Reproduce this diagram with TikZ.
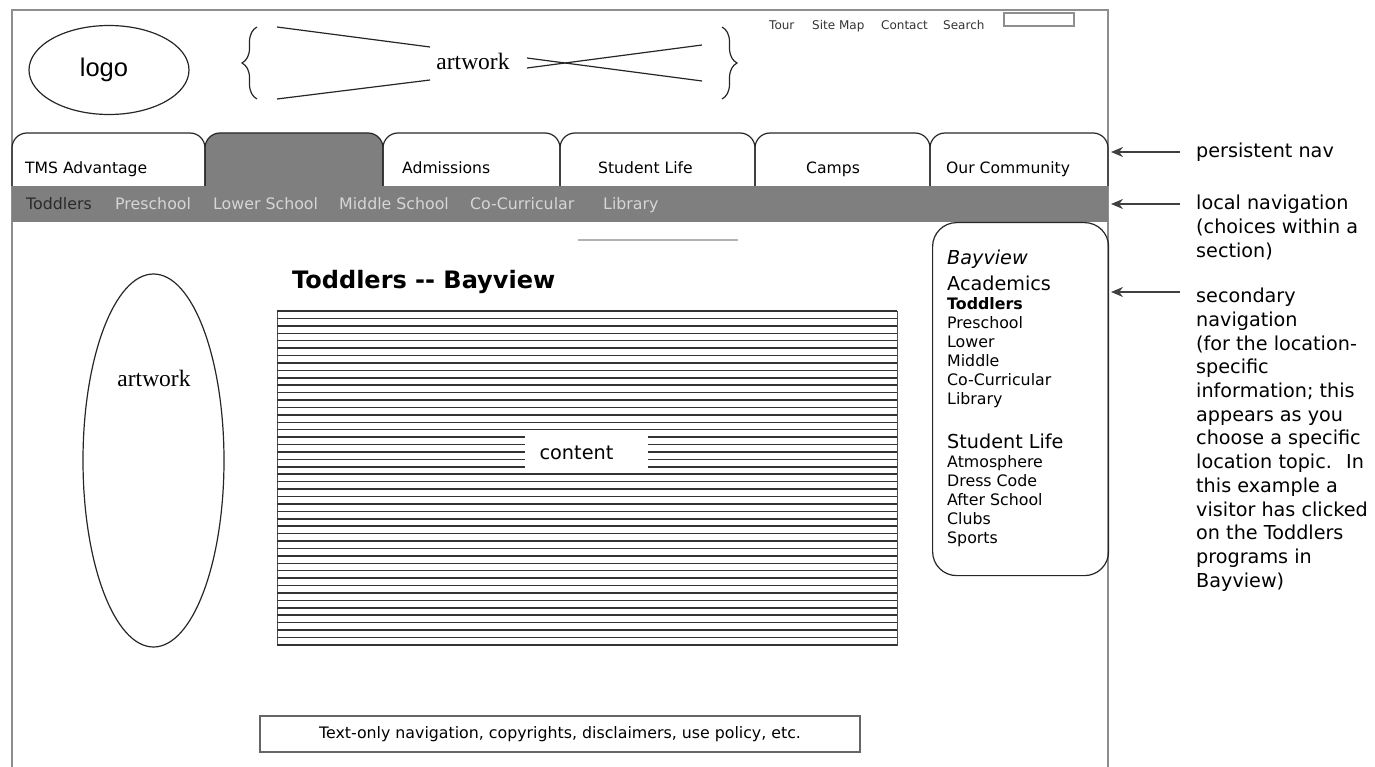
\documentclass[tikz,border=0pt]{standalone}
\usepackage{fontspec}
\setmainfont{DejaVu Sans}
\newfontfamily\artfont{Liberation Serif}
\newfontfamily\logofont{Liberation Sans}
\usetikzlibrary{shapes.geometric,arrows.meta,decorations.pathreplacing}

\definecolor{framegray}{HTML}{8E8E8E}
\definecolor{bargray}{HTML}{7F7F7F}
\definecolor{navlight}{HTML}{D6D6D6}
\definecolor{navdark}{HTML}{2A2A2A}

\newcommand{\fsz}[2]{\fontsize{#1}{#2}\selectfont}

\begin{document}
\begin{tikzpicture}[x=1pt, y=-1pt,
  frameline/.style={draw=framegray, line width=2pt},
  outline/.style={draw=black!85, line width=1.2pt},
  tabshape/.style={outline, rounded corners=15pt},
  toplink/.style={anchor=base west, inner sep=0pt, font=\fsz{12}{14}, text=black!80},
  tablbl/.style={anchor=base west, inner sep=0pt, font=\fsz{15.6}{18}},
  locallbl/.style={anchor=base west, inner sep=0pt, font=\fsz{15.8}{18}, text=navlight},
  sidebig/.style={anchor=base west, inner sep=0pt, font=\fsz{19.2}{22}},
  sidesmall/.style={anchor=base west, inner sep=0pt, font=\fsz{15.8}{19}},
  note/.style={anchor=north west, inner sep=0pt, align=left, font=\fsz{19.2}{23.7}},
  navarrow/.style={-{Stealth[length=12pt,width=10pt]}, draw=black!75, line width=1.6pt},
  txtline/.style={draw=black!80, line width=1.5pt}
]
\useasboundingbox (0,0) rectangle (1375,767);

% page frame
\draw[frameline] (12,767) -- (12,10) -- (1108,10) -- (1108,767);

% header
\node[ellipse, outline, minimum width=160pt, minimum height=89pt, font=\logofont\fsz{25.5}{28}] (logo) at (109,70) {logo\hspace*{10pt}};
\node[font=\artfont\fsz{23.5}{26}] (artTop) at (473,61) {artwork};
\draw[outline, decorate, decoration={brace, amplitude=15pt}] (257,99) -- (257,27);
\draw[outline, decorate, decoration={brace, amplitude=15pt}] (722,27) -- (722,99);
\draw[outline] (277,27) -- (430,47);
\draw[outline] (277,99) -- (430,80);
\draw[outline] (702,45) -- (527,68);
\draw[outline] (702,81) -- (527,58);

% utility links
\node[toplink] (tour) at (769,29.5) {Tour};
\node[toplink] (sitemap) at (812,29.5) {Site Map};
\node[toplink] (contact) at (881,29.5) {Contact};
\node[toplink] (search) at (943,29.5) {Search};
\node[draw=framegray, line width=1.8pt, minimum width=70pt, minimum height=13pt, inner sep=0pt, anchor=north west] (searchbox) at (1003,12) {};

% persistent nav tabs
\filldraw[tabshape, fill=bargray] (205,186) -- (205,133) -- (383,133) -- (383,186);
\foreach \a/\b in {12/205, 383/560, 560/755, 755/930, 930/1108}
  \draw[tabshape] (\a,186) -- (\a,133) -- (\b,133) -- (\b,186);
\node[tablbl] (tabTMS) at (25,173.5) {TMS Advantage};
\node[tablbl] (tabAdm) at (402,173.5) {Admissions};
\node[tablbl] (tabSL) at (598,173.5) {Student Life};
\node[tablbl] (tabCamps) at (806,173.5) {Camps};
\node[tablbl] (tabComm) at (946,173.5) {Our Community};

% local nav bar
\node[fill=bargray, minimum width=1096pt, minimum height=36pt, inner sep=0pt, anchor=north west] (localbar) at (12,186) {};
\node[locallbl, text=navdark] (lnToddlers) at (26,209.5) {Toddlers};
\node[locallbl] (lnPre) at (115,209.5) {Preschool};
\node[locallbl] (lnLower) at (213,209.5) {Lower School};
\node[locallbl] (lnMiddle) at (339,209.5) {Middle School};
\node[locallbl] (lnCoCur) at (470,209.5) {Co-Curricular};
\node[locallbl] (lnLib) at (603,209.5) {Library};
\draw[draw=black!30, line width=1.2pt] (578,240) -- (738,240);

% left artwork
\node[ellipse, outline, minimum width=141pt, minimum height=373pt] (artLeft) at (153.5,460.5) {};
\node[font=\artfont\fsz{23.5}{26}] (artLeftTxt) at (154,378) {artwork};

% content
\node[anchor=base west, inner sep=0pt, font=\bfseries\fsz{24}{27}] (title) at (292,288) {Toddlers -{}- Bayview};
\node[draw=black!70, line width=1.2pt, minimum width=620pt, minimum height=334pt, inner sep=0pt, anchor=north west] (contentblk) at (277,311) {};
\foreach \i in {0,...,45}
  \draw[txtline] (277,{311+7.42*\i}) -- (897,{311+7.42*\i});
\node[fill=white, minimum width=123pt, minimum height=33pt, inner sep=0pt] (contentbox) at (586.5,452.5) {};
\node[font=\fsz{19.3}{22}] (contentlbl) at (576.5,453) {content};

% secondary nav
\node[outline, rounded corners=24pt, minimum width=176pt, minimum height=353pt, inner sep=0pt, anchor=north west] (sidebar) at (932,222) {};
\node[sidebig] (sbBay) at (947,265) {\itshape Bayview};
\node[sidebig] (sbAcad) at (947,290) {Academics};
\node[sidesmall] (sbTod) at (947,309) {\bfseries Toddlers};
\foreach \t [count=\i] in {Preschool, Lower, Middle, Co-Curricular, Library}
  \node[sidesmall] (sbA\i) at (947,{309+19*\i}) {\t};
\node[sidebig] (sbSL) at (947,448) {Student Life};
\foreach \t [count=\i from 0] in {Atmosphere, Dress Code, After School, Clubs, Sports}
  \node[sidesmall] (sbS\i) at (947,{467+19*\i}) {\t};

% footer
\node[draw=black!60, line width=1.5pt, minimum width=600pt, minimum height=36pt, inner sep=0pt, font=\fsz{15.8}{18}] (footer) at (560,734) {Text-only navigation, copyrights, disclaimers, use policy, etc.};

% annotations
\coordinate (pnavTip) at (1111,152);
\coordinate (lnavTip) at (1111,204);
\coordinate (snavTip) at (1111,292);
\node[note, anchor=base west] (pnav) at (1196,158) {persistent nav};
\node[note] (lnav) at (1196,195) {local navigation\\(choices within a\\section)};
\node[note] (snav) at (1196,288) {secondary\\navigation\\(for the location-\\specific\\information; this\\appears as you\\choose a specific\\location topic.~ In\\this example a\\visitor has clicked\\on the Toddlers\\programs in\\Bayview)};
\draw[navarrow] (pnav.west |- pnavTip) ++(-16,0) -- (pnavTip);
\draw[navarrow] (lnav.west |- lnavTip) ++(-16,0) -- (lnavTip);
\draw[navarrow] (snav.west |- snavTip) ++(-16,0) -- (snavTip);
\end{tikzpicture}
\end{document}
